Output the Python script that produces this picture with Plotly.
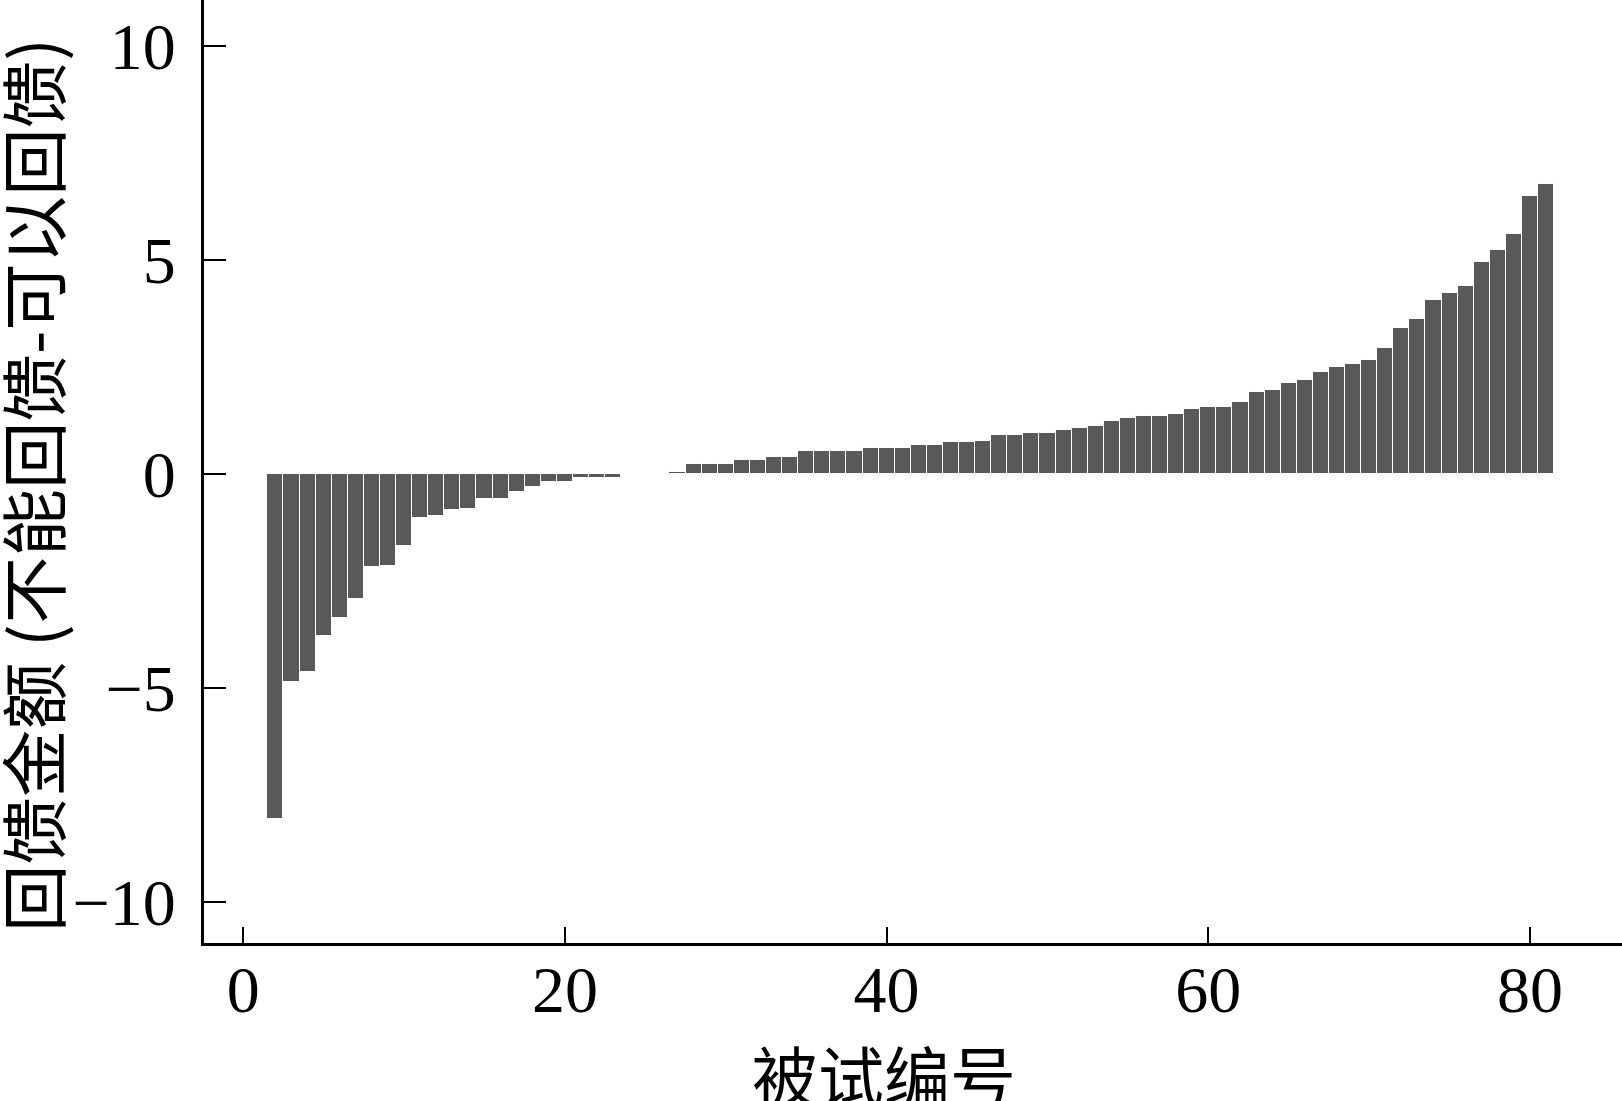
import plotly.graph_objects as go

# subject ids and feedback amount difference (cannot feedback - can feedback)
subjects = list(range(2, 82))
values = [
    -8.05, -4.86, -4.63, -3.79, -3.35, -2.91, -2.18, -2.14, -1.69, -1.02,
    -0.97, -0.85, -0.81, -0.575, -0.575, -0.42, -0.30, -0.18, -0.18, -0.085,
    -0.085, -0.085, 0.0, 0.0, 0.0, 0.06, 0.225, 0.225, 0.225, 0.34,
    0.34, 0.39, 0.39, 0.55, 0.55, 0.55, 0.55, 0.62, 0.62, 0.62,
    0.67, 0.67, 0.74, 0.74, 0.78, 0.91, 0.91, 0.96, 0.96, 1.03,
    1.07, 1.12, 1.24, 1.31, 1.35, 1.35, 1.40, 1.52, 1.56, 1.56,
    1.68, 1.91, 1.96, 2.12, 2.19, 2.39, 2.51, 2.56, 2.67, 2.95,
    3.40, 3.63, 4.07, 4.23, 4.40, 4.96, 5.24, 5.61, 6.50, 6.78,
]
x_ticks = [0, 20, 40, 60, 80]
y_ticks = [-10, -5, 0, 5, 10]
x_title = "被试编号"
y_title = "回馈金额 (不能回馈-可以回馈)"

font_family = "Liberation Serif, Times New Roman, Noto Sans CJK SC, serif"
cjk_family = "Noto Sans CJK SC"

fig = go.Figure(go.Bar(
    x=subjects, y=values,
    marker=dict(color="#5a5859", line=dict(color="white", width=1)),
    width=1.0,
))

fig.update_layout(
    width=1622, height=1101,
    margin=dict(l=204, r=0, t=0, b=158),
    paper_bgcolor="white", plot_bgcolor="white",
    bargap=0, showlegend=False,
    font=dict(family=font_family, color="black", size=66),
    annotations=[
        dict(text=x_title, xref="paper", yref="paper", x=0.4795, y=-0.138,
             xanchor="center", yanchor="middle", showarrow=False,
             font=dict(size=66, family=cjk_family, color="black")),
        dict(text=y_title, xref="paper", yref="paper", x=-0.1225, y=0.486,
             xanchor="center", yanchor="middle", showarrow=False, textangle=-90,
             font=dict(size=67.5, family=cjk_family, color="black")),
    ],
)
fig.update_xaxes(
    range=[-2.44, 85.72], tickvals=x_ticks, ticks="inside", ticklen=16, tickwidth=2,
    tickcolor="black", showline=True, linecolor="black", linewidth=3,
    showgrid=False, zeroline=False, ticklabelstandoff=-13,
    tickfont=dict(size=66, family=font_family),
)
fig.update_yaxes(
    range=[-10.95, 11.07], tickvals=y_ticks, ticks="inside", ticklen=22, tickwidth=2,
    tickcolor="black", showline=True, linecolor="black", linewidth=3,
    showgrid=False, zeroline=False, ticklabelstandoff=12,
    tickfont=dict(size=66, family=font_family),
)

fig.write_html(
    "out.html",
    config={"displayModeBar": False},
    post_script="document.body.style.margin='0';document.body.style.overflow='hidden';",
)
